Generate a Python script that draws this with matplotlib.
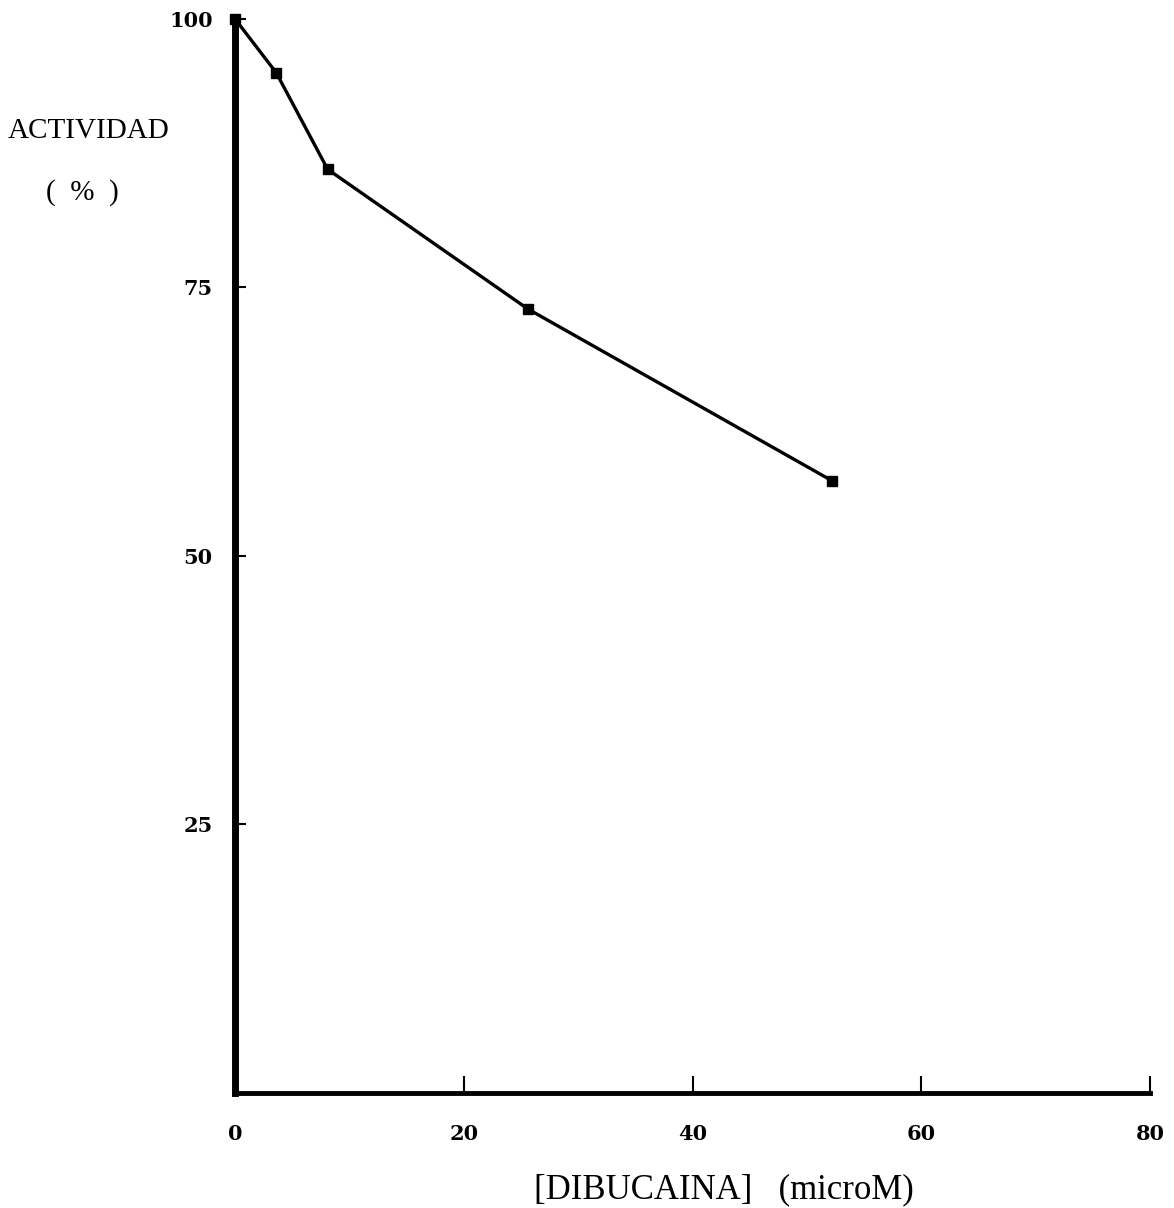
import numpy as np
import matplotlib
matplotlib.use("Agg")
import matplotlib.pyplot as plt

# dibucaina concentration (microM) vs activity (%)
dibucaina = [0, 3.6, 8.1, 25.6, 52.2]
actividad = [100, 95, 86, 73, 57]

xticks = [0, 20, 40, 60, 80]
yticks = [25, 50, 75, 100]

plt.rcParams["font.family"] = ["Liberation Serif", "DejaVu Serif"]

fig = plt.figure(figsize=(11.74, 12.08), dpi=100)
ax = fig.add_axes([0.2002, 0.0952, 0.7794, 0.8891])

ax.plot(dibucaina, actividad, color="black", linewidth=2.4,
        marker="s", markersize=7, markerfacecolor="black", clip_on=False)

ax.set_xlim(0, 80)
ax.set_ylim(0, 100)

ax.spines["top"].set_visible(False)
ax.spines["right"].set_visible(False)
ax.spines["left"].set_linewidth(5)
ax.spines["bottom"].set_linewidth(3.5)

ax.set_xticks(xticks)
ax.set_yticks(yticks)
ax.tick_params(direction="in", width=1.5)
ax.tick_params(axis="x", length=12, pad=22)
ax.tick_params(axis="y", length=8, pad=16)
for lab in ax.get_xticklabels() + ax.get_yticklabels():
    lab.set_family("DejaVu Serif")
    lab.set_fontweight("bold")
    lab.set_fontsize(15)

fig.text(0.0758, 0.8916, "ACTIVIDAD", fontsize=21, ha="center", va="center")
fig.text(0.070, 0.841, "(  %  )", fontsize=21, ha="center", va="center")
fig.text(0.617, 0.015, "[DIBUCAINA]   (microM)", fontsize=25, ha="center", va="center")

plt.savefig("out.png", dpi=100)
